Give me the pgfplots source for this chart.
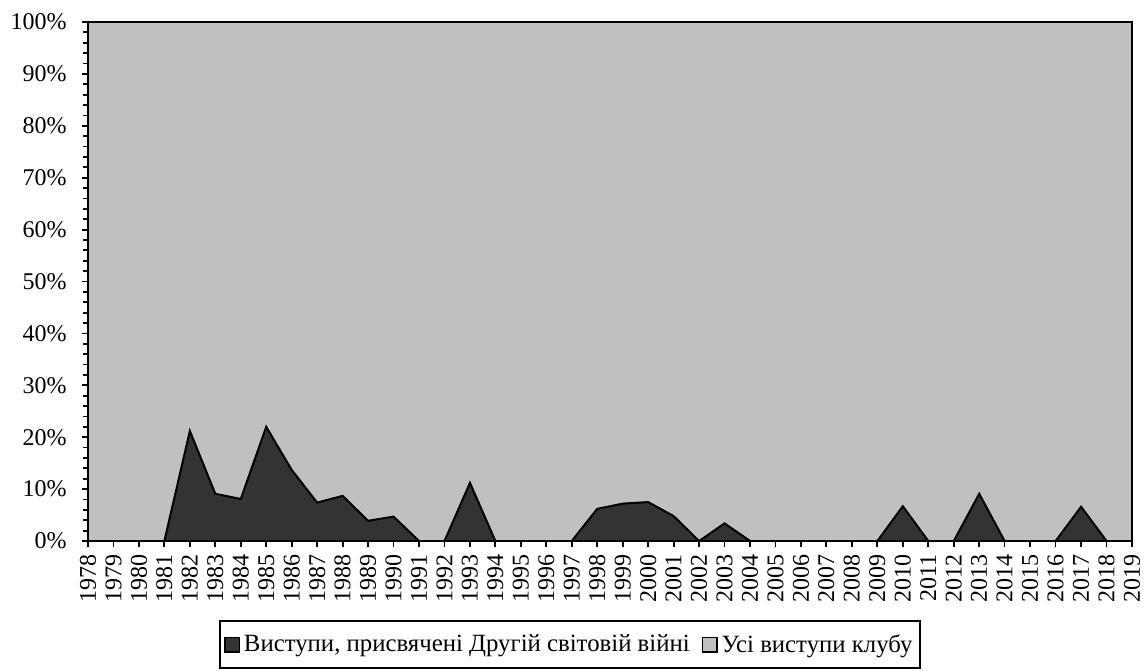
\documentclass[border=0pt]{standalone}
\usepackage{fontspec}
\setmainfont{Liberation Serif}
\usepackage{pgfplots}
\usepackage{pgfplotstable}
\pgfplotsset{compat=1.18}
\definecolor{darkser}{RGB}{51,51,51}
\definecolor{lightser}{RGB}{192,192,192}
\pgfplotstableread{
year dark rest
1978 0 100
1979 0 100
1980 0 100
1981 0 100
1982 21.2 78.8
1983 9.1 90.9
1984 8.1 91.9
1985 22.0 78.0
1986 13.7 86.3
1987 7.4 92.6
1988 8.7 91.3
1989 3.9 96.1
1990 4.7 95.3
1991 0 100
1992 0 100
1993 11.2 88.8
1994 0 100
1995 0 100
1996 0 100
1997 0 100
1998 6.2 93.8
1999 7.2 92.8
2000 7.5 92.5
2001 4.8 95.2
2002 0 100
2003 3.4 96.6
2004 0 100
2005 0 100
2006 0 100
2007 0 100
2008 0 100
2009 0 100
2010 6.7 93.3
2011 0 100
2012 0 100
2013 9.1 90.9
2014 0 100
2015 0 100
2016 0 100
2017 6.6 93.4
2018 0 100
2019 0 100
}\datatable
\begin{document}
\begin{tikzpicture}
\begin{axis}[
  name=ax,
  scale only axis,
  width=522pt, height=259.5pt,
  xmin=1978, xmax=2019, ymin=0, ymax=100,
  stack plots=y,
  axis on top,
  axis line style={line width=1pt},
  xtick={1978,...,2019},
  ytick={0,10,...,100},
  minor y tick num=4,
  tick align=outside,
  tick style={black, line width=0.9pt},
  major tick length=3.2pt,
  minor tick length=2.5pt,
  x tick label style={rotate=90, anchor=east, font=\fontsize{12}{12}\selectfont},
  y tick label style={font=\fontsize{12}{12}\selectfont, xshift=-4pt},
  /pgf/number format/assume math mode=true,
  /pgf/number format/1000 sep={},
  xticklabel={\pgfmathprintnumber[1000 sep={}]{\tick}},
  yticklabel={\pgfmathprintnumber{\tick}\%},
  xtick pos=bottom, ytick pos=left,
  legend columns=2,
  legend style={at={(0.462,-0.2)}, anchor=center, draw=black, line width=1pt,
    font=\fontsize{12.4}{14}\selectfont, inner xsep=2pt, inner ysep=4.5pt,
    /tikz/every even column/.append style={column sep=4pt}},
  legend cell align=left,
  legend image code/.code={\draw[#1, draw=black, line width=0.7pt] (0pt,-3.6pt) rectangle (7.2pt,3.6pt);},
]
\addplot[fill=darkser, draw=black, line width=1pt] table[x=year, y=dark] {\datatable} \closedcycle;
\addlegendentry{Виступи, присвячені Другій світовій війні}
\addplot[fill=lightser, draw=none] table[x=year, y=rest] {\datatable} \closedcycle;
\addlegendentry{Усі виступи клубу}
\end{axis}
\pgfresetboundingbox
\useasboundingbox ([xshift=-44pt,yshift=11pt]ax.north west) rectangle ([xshift=6.5pt,yshift=-64.5pt]ax.south east);
\end{tikzpicture}
\end{document}
